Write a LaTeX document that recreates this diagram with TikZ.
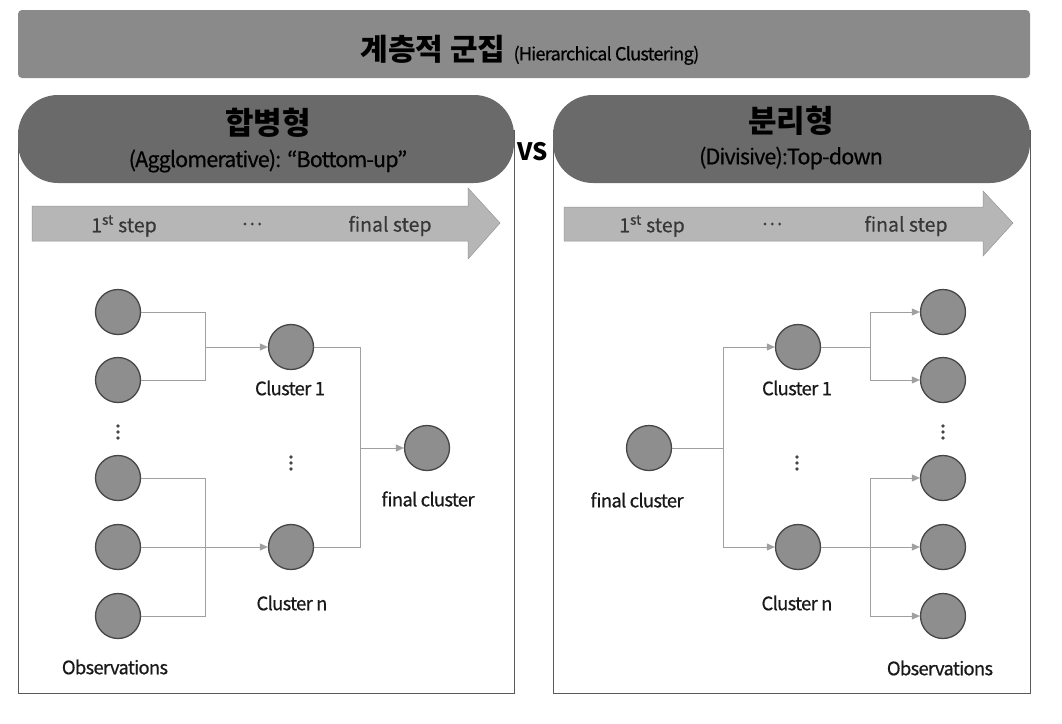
\documentclass[tikz,border=0pt]{standalone}
\usepackage{fontspec}
\setmainfont{Noto Sans CJK KR}
\newfontfamily\tightfont[LetterSpace=-4,FakeBold=0.5]{Noto Sans CJK KR}
\newfontfamily\medfont[FakeBold=0.4]{Noto Sans CJK KR}
\usetikzlibrary{arrows.meta}
\definecolor{banner}{RGB}{138,138,138}
\definecolor{header}{RGB}{106,106,106}
\definecolor{barfill}{RGB}{182,182,182}
\definecolor{barline}{RGB}{150,150,150}
\definecolor{dotfill}{RGB}{142,142,142}
\definecolor{dotline}{RGB}{70,70,70}
\definecolor{connc}{RGB}{160,160,160}
\definecolor{panelc}{RGB}{90,90,90}
\definecolor{bartext}{RGB}{55,55,55}
\definecolor{labtext}{RGB}{25,25,25}
\tikzset{
  dotnode/.style={circle,minimum size=45pt,inner sep=0pt,fill=dotfill,draw=dotline,line width=1.3pt},
  conn/.style={draw=connc,line width=0.9pt},
  connarr/.style={conn,-{Triangle[width=7pt,length=8pt]}},
  headbox/.style={fill=header,draw=none,rounded corners=40pt},
  panel/.style={draw=panelc,line width=0.8pt},
  bararrow/.style={fill=barfill,draw=barline,line width=0.5pt},
  bartxt/.style={text=bartext,font=\medfont\fontsize{19.5}{22}\selectfont},
  labtxt/.style={text=labtext,font=\tightfont\fontsize{18.5}{21}\selectfont},
  vdot/.style={fill=dotline}
}
\newcommand{\threedots}[2]{%
  \fill[vdot] (#1,#2-6) circle (1.8pt);
  \fill[vdot] (#1,#2) circle (1.8pt);
  \fill[vdot] (#1,#2+6) circle (1.8pt);}
\begin{document}
\begin{tikzpicture}[x=1pt,y=-1pt]
\useasboundingbox[fill=white] (0,0) rectangle (1062,723);

% top banner
\fill[banner,rounded corners=4pt] (18,10) rectangle (1030,78);
\node[inner sep=0pt,text=black] (title) at (530,50)
  {{\fontsize{30}{34}\selectfont\bfseries 계층적 군집}\hspace{8pt}{\tightfont\fontsize{18}{21}\selectfont(Hierarchical Clustering)}};

% panels
\draw[panel] (18,130) rectangle (514,693);
\draw[panel] (553,130) rectangle (1030,693);
\fill[headbox] (18,95) rectangle (514,183);
\fill[headbox] (553,95) rectangle (1030,183);
\node[text=black,font=\fontsize{31}{34}\selectfont\bfseries] (hL1) at (268,123) {합병형};
\node[text=black,font=\tightfont\fontsize{21.5}{24}\selectfont] (hL2) at (268,161) {(Agglomerative):\hspace{6pt}“Bottom-up”};
\node[text=black,font=\fontsize{31}{34}\selectfont\bfseries] (hR1) at (791,121) {분리형};
\node[text=black,font=\tightfont\fontsize{21.5}{24}\selectfont] (hR2) at (791,158) {(Divisive):Top-down};
\node[text=black,font=\fontsize{24}{26}\selectfont\bfseries] (vs) at (533,152) {VS};

% step arrows
\filldraw[bararrow] (32,206) -- (468,206) -- (468,188) -- (500,223) -- (468,259) -- (468,241) -- (32,241) -- cycle;
\filldraw[bararrow] (564,207) -- (983,207) -- (983,191) -- (1013,223) -- (983,256) -- (983,241) -- (564,241) -- cycle;
\node[bartxt] (sL1) at (124,226) {1\textsuperscript{st} step};
\node[bartxt] (sL2) at (252,224) {…};
\node[bartxt] (sL3) at (390,226) {final step};
\node[bartxt] (sR1) at (652,226) {1\textsuperscript{st} step};
\node[bartxt] (sR2) at (772,224) {…};
\node[bartxt] (sR3) at (906,226) {final step};

% ---------- left: agglomerative ----------
\node[dotnode] (lo1) at (118,312) {};
\node[dotnode] (lo2) at (118,380) {};
\node[dotnode] (lo3) at (118,478) {};
\node[dotnode] (lo4) at (118,547) {};
\node[dotnode] (lo5) at (118,616) {};
\threedots{118}{432}
\node[dotnode] (lc1) at (291,347) {};
\node[dotnode] (lcn) at (291,547) {};
\threedots{291}{463}
\node[dotnode] (lf) at (427,448) {};
\node[labtxt] (lc1t) at (290,388) {Cluster 1};
\node[labtxt] (lcnt) at (292,603) {Cluster n};
\node[labtxt] (lft) at (428,499) {final cluster};
\node[labtxt] (lot) at (115,667) {Observations};

\coordinate (jl1) at (205,347);
\coordinate (jl2) at (205,547);
\coordinate (jl3) at (360,448);
\draw[conn] (lo1.east) -| (jl1);
\draw[conn] (lo2.east) -| (jl1);
\draw[connarr] (jl1) -- (lc1.west);
\draw[conn] (lo3.east) -| (jl2);
\draw[conn] (lo5.east) -| (jl2);
\draw[connarr] (lo4.east) -- (lcn.west);
\draw[conn] (lc1.east) -| (jl3);
\draw[conn] (lcn.east) -| (jl3);
\draw[connarr] (jl3) -- (lf.west);

% ---------- right: divisive ----------
\node[dotnode] (rf) at (649,448) {};
\node[dotnode] (rc1) at (798,347) {};
\node[dotnode] (rcn) at (798,547) {};
\threedots{797}{463}
\node[dotnode] (ro1) at (943,312) {};
\node[dotnode] (ro2) at (943,380) {};
\node[dotnode] (ro3) at (943,478) {};
\node[dotnode] (ro4) at (943,547) {};
\node[dotnode] (ro5) at (943,616) {};
\threedots{943}{432}
\node[labtxt] (rft) at (637,500) {final cluster};
\node[labtxt] (rc1t) at (797,388) {Cluster 1};
\node[labtxt] (rcnt) at (797,603) {Cluster n};
\node[labtxt] (rot) at (940,668) {Observations};

\coordinate (jr1) at (723,448);
\coordinate (jr2) at (870,347);
\coordinate (jr3) at (870,547);
\draw[conn] (rf.east) -- (jr1);
\draw[connarr] (jr1) |- (rc1.west);
\draw[connarr] (jr1) |- (rcn.west);
\draw[conn] (rc1.east) -- (jr2);
\draw[connarr] (jr2) |- (ro1.west);
\draw[connarr] (jr2) |- (ro2.west);
\draw[connarr] (rcn.east) -- (ro4.west);
\draw[connarr] (jr3) |- (ro3.west);
\draw[connarr] (jr3) |- (ro5.west);
\end{tikzpicture}
\end{document}
